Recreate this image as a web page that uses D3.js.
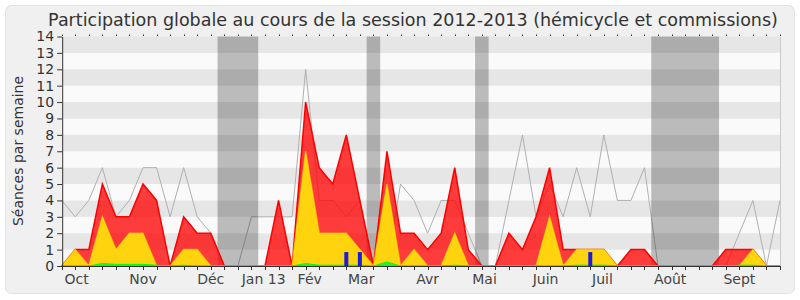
<!DOCTYPE html>
<html>
<head>
<meta charset="utf-8">
<script src="https://cdn.jsdelivr.net/npm/d3@7"></script>
<style>
  body { margin: 0; background: #fff; }
  text { font-family: "DejaVu Sans", Verdana, sans-serif; }
</style>
</head>
<body>
<svg id="drawing_region"></svg>
<script>
// weekly values, session 2012-2013 (54 weeks)
const maxSeances = [4,3,4,6,3,4,6,6,3,6,3,2,0,0,3,3,3,3,12,4,4,3,4,0,0,5,4,2,4,4,2,0,0,4,8,3,5,3,6,3,8,4,4,6,0,0,0,0,0,0,2,4,0,4];
const commission = [0,1,1,5,3,3,5,4,0,3,2,2,0,0,0,0,4,0,10,6,5,8,4,0,7,2,2,1,2,6,1,0,0,2,1,3,6,1,1,1,1,0,1,1,0,0,0,0,0,1,1,1,0,0];
const hemicycle = [0,1,0,3,1,2,2,0,0,1,1,0,0,0,0,0,0,0,7,2,2,2,1,0,5,0,1,0,0,2,0,0,0,0,0,0,3,0,1,1,1,0,0,0,0,0,0,0,0,0,0,1,0,0];
const interventions = [0,0,0,0.15,0.1,0.1,0.1,0.05,0,0.05,0,0,0,0,0,0,0,0,0.15,0.05,0.05,0.05,0.05,0,0.25,0,0,0,0,0.05,0,0,0,0,0,0,0,0,0.05,0.05,0.05,0,0,0,0,0,0,0,0,0,0.05,0.05,0,0];
const questions = [0,0,0,0,0,0,0,0,0,0,0,0,0,0,0,0,0,0,0,0,0,0.85,0.85,0,0,0,0,0,0,0,0,0,0,0,0,0,0,0,0,0.85,0,0,0,0,0,0,0,0,0,0,0,0,0,0];
const vacances = [[11.5,14.5],[22.5,23.5],[30.5,31.5],[43.5,48.5]];
const monthLabels = ["Oct","Nov","Déc","Jan 13","Fév","Mar","Avr","Mai","Juin","Juil","Août","Sept"];
const monthPos = [1.1,6.0,11.0,14.9,18.3,22.1,27.0,31.2,35.7,39.9,44.9,50.0];

const config = {
    width: 800,
    height: 300,
    margin: {top:36.5, right:20, bottom:34, left:61.7}
};

const svg = d3.select('#drawing_region')
    .attr('width', config.width)
    .attr('height', config.height);

// panel
svg.append('rect')
    .attr('x', 5.5).attr('y', 5.5)
    .attr('width', 789).attr('height', 288)
    .attr('rx', 6)
    .attr('fill', '#f0f0f0')
    .attr('stroke', '#e2e2e2');

const x0 = config.margin.left, x1 = config.width - config.margin.right;
const y0 = config.height - config.margin.bottom, y1 = config.margin.top;

const xscale = d3.scaleLinear().domain([0, maxSeances.length - 1]).range([x0, x1]);
const yscale = d3.scaleLinear().domain([0, 14]).range([y0, y1]);

const g = svg.append('g');

// stripes
g.selectAll('.stripe')
    .data(d3.range(14))
    .enter()
    .append('rect')
    .attr('x', x0).attr('width', x1 - x0)
    .attr('y', d => yscale(d + 1))
    .attr('height', d => yscale(d) - yscale(d + 1))
    .attr('fill', d => d % 2 ? '#e6e6e6' : '#fafafa');

const line = d3.line()
    .x((d, i) => xscale(i))
    .y(d => yscale(d));

const area = d3.area()
    .x((d, i) => xscale(i))
    .y0(yscale(0))
    .y1(d => yscale(d));

g.append('path')
    .attr('d', line(maxSeances))
    .attr('fill', 'none')
    .attr('stroke', '#b0b0b0')
    .attr('stroke-width', 1);

// vacations
g.selectAll('.vac')
    .data(vacances)
    .enter()
    .append('rect')
    .attr('x', d => xscale(d[0]))
    .attr('width', d => xscale(d[1]) - xscale(d[0]))
    .attr('y', y1).attr('height', y0 - y1)
    .attr('fill', 'rgba(0,0,0,0.25)');

// plot border right
g.append('line')
    .attr('x1', x1 + 0.5).attr('x2', x1 + 0.5)
    .attr('y1', y1).attr('y2', y0)
    .attr('stroke', '#c8c8c8');

g.append('path')
    .attr('d', area(commission))
    .attr('fill', 'rgba(255,0,0,0.76)')
    .attr('stroke', '#ff0000')
    .attr('stroke-width', 1.5);

g.append('path')
    .attr('d', area(hemicycle))
    .attr('fill', '#ffd40f')
    .attr('stroke', 'rgba(255,235,0,0.6)')
    .attr('stroke-width', 1.5);

g.append('path')
    .attr('d', area(interventions))
    .attr('fill', '#33e833')
    .attr('stroke', '#00ff00')
    .attr('stroke-width', 1);

g.selectAll('.q')
    .data(questions.map((v, i) => ({v: v, i: i})).filter(d => d.v > 0))
    .enter()
    .append('rect')
    .attr('x', d => xscale(d.i) - 2)
    .attr('width', 4)
    .attr('y', d => yscale(d.v))
    .attr('height', d => yscale(0) - yscale(d.v))
    .attr('fill', '#1c1cdc');

// axes
const yaxis = d3.axisLeft(yscale).ticks(14).tickSize(5).tickSizeOuter(0).tickPadding(3);
svg.append('g')
    .attr('transform', `translate(${x0 + 0.5},0)`)
    .call(yaxis)
    .call(a => a.select('.domain').attr('stroke', '#333'))
    .call(a => a.selectAll('line').attr('stroke', '#333'))
    .call(a => a.selectAll('text').attr('font-size', 14).attr('fill', '#333')
        .style('font-family', '"DejaVu Sans", sans-serif'));

const weeks = d3.range(maxSeances.length);
svg.append('g')
    .selectAll('line')
    .data(weeks)
    .enter()
    .append('line')
    .attr('x1', d => Math.round(xscale(d)) + 0.5).attr('x2', d => Math.round(xscale(d)) + 0.5)
    .attr('y1', y0).attr('y2', y0 + 4)
    .attr('stroke', '#333');

svg.append('g')
    .selectAll('line')
    .data(weeks)
    .enter()
    .append('line')
    .attr('x1', d => Math.round(xscale(d)) + 0.5).attr('x2', d => Math.round(xscale(d)) + 0.5)
    .attr('y1', y1 - 2).attr('y2', y1 - 0.5)
    .attr('stroke', '#333');

svg.append('line')
    .attr('x1', x0).attr('x2', x1 + 1)
    .attr('y1', y0 + 0.5).attr('y2', y0 + 0.5)
    .attr('stroke', '#333');

svg.append('g')
    .selectAll('text')
    .data(monthLabels)
    .enter()
    .append('text')
    .attr('x', (d, i) => xscale(monthPos[i]))
    .attr('y', 284)
    .attr('text-anchor', 'middle')
    .attr('font-size', 14)
    .attr('fill', '#444')
    .text(d => d);

svg.append('text')
    .attr('transform', 'translate(23,151) rotate(-90)')
    .attr('text-anchor', 'middle')
    .attr('font-size', 14)
    .attr('fill', '#333')
    .text('Séances par semaine');

svg.append('text')
    .attr('x', 413)
    .attr('y', 26)
    .attr('text-anchor', 'middle')
    .attr('font-size', 17.5)
    .attr('fill', '#333')
    .text('Participation globale au cours de la session 2012-2013 (hémicycle et commissions)');
</script>
</body>
</html>
